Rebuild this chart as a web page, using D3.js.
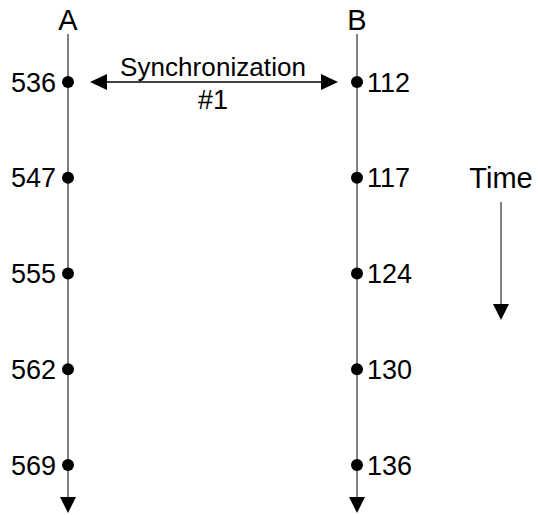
<!DOCTYPE html>
<html>
<head>
<meta charset="utf-8">
<script src="https://cdn.jsdelivr.net/npm/d3@7"></script>
<style>
	body { margin: 0; background: #fff; }
	text { font-family: Arial, "Liberation Sans", sans-serif; fill: #000; }
</style>
</head>
<body>
<div id="container"></div>
<script>
const processes = ["A", "B"];
const eventIndex = [0, 1, 2, 3, 4];
const clockA = [536, 547, 555, 562, 569];
const clockB = [112, 117, 124, 130, 136];
const syncLabel = ["Synchronization", "#1"];
const syncEvent = 0;
const timeLabel = "Time";

function drawChart() {
	const width = 538;
	const height = 515;
	const lineColor = "#808080";

	const svg = d3
		.select("#container")
		.append("svg")
		.attr("width", width)
		.attr("height", height);

	const xScale = d3.scalePoint().domain(processes).range([68, 357]);
	const yScale = d3.scalePoint().domain(eventIndex).range([82, 465]);

	const lineTop = 34;
	const lineBottom = 513;
	const headLen = 16;
	const headHalf = 8;

	// process timelines
	const lanes = svg
		.selectAll(".lane")
		.data(processes)
		.enter()
		.append("g")
		.attr("class", "lane");

	lanes
		.append("line")
		.attr("x1", (d) => xScale(d))
		.attr("x2", (d) => xScale(d))
		.attr("y1", lineTop)
		.attr("y2", lineBottom - headLen)
		.attr("stroke", lineColor)
		.attr("stroke-width", 2);

	lanes
		.append("path")
		.attr("d", (d) => {
			const x = xScale(d);
			return `M${x - headHalf},${lineBottom - headLen}L${x + headHalf},${lineBottom - headLen}L${x},${lineBottom}Z`;
		})
		.attr("fill", "#000");

	lanes
		.append("text")
		.attr("x", (d) => xScale(d))
		.attr("y", 30)
		.attr("text-anchor", "middle")
		.attr("font-size", 29)
		.text((d) => d);

	// events
	const series = [
		{ name: "A", values: clockA, anchor: "end", dx: -12 },
		{ name: "B", values: clockB, anchor: "start", dx: 10 },
	];

	series.forEach((s) => {
		const g = svg.append("g").attr("class", `events-${s.name}`);
		g.selectAll("circle")
			.data(s.values)
			.enter()
			.append("circle")
			.attr("cx", xScale(s.name))
			.attr("cy", (d, i) => yScale(i))
			.attr("r", 6)
			.attr("fill", "#000");
		g.selectAll("text")
			.data(s.values)
			.enter()
			.append("text")
			.attr("x", xScale(s.name) + s.dx)
			.attr("y", (d, i) => yScale(i))
			.attr("dy", "0.36em")
			.attr("text-anchor", s.anchor)
			.attr("font-size", 27)
			.text((d) => d);
	});

	// synchronization arrow
	const sy = yScale(syncEvent);
	const sx1 = xScale("A") + 22;
	const sx2 = xScale("B") - 19;
	const sync = svg.append("g").attr("class", "sync");
	sync
		.append("line")
		.attr("x1", sx1 + headLen)
		.attr("x2", sx2 - headLen)
		.attr("y1", sy)
		.attr("y2", sy)
		.attr("stroke", "#404040")
		.attr("stroke-width", 2);
	sync
		.append("path")
		.attr("d", `M${sx1},${sy}L${sx1 + headLen + 1},${sy - headHalf}L${sx1 + headLen + 1},${sy + headHalf}Z`)
		.attr("fill", "#000");
	sync
		.append("path")
		.attr("d", `M${sx2},${sy}L${sx2 - headLen - 1},${sy - headHalf}L${sx2 - headLen - 1},${sy + headHalf}Z`)
		.attr("fill", "#000");
	const mid = (sx1 + sx2) / 2 - 1;
	sync
		.append("text")
		.attr("x", mid)
		.attr("y", sy - 6)
		.attr("text-anchor", "middle")
		.attr("font-size", 26)
		.attr("textLength", 186)
		.text(syncLabel[0]);
	sync
		.append("text")
		.attr("x", mid)
		.attr("y", sy + 27)
		.attr("text-anchor", "middle")
		.attr("font-size", 27)
		.text(syncLabel[1]);

	// time legend
	const tx = 501;
	const time = svg.append("g").attr("class", "time");
	time
		.append("text")
		.attr("x", tx)
		.attr("y", 188)
		.attr("text-anchor", "middle")
		.attr("font-size", 29)
		.text(timeLabel);
	time
		.append("line")
		.attr("x1", tx)
		.attr("x2", tx)
		.attr("y1", 202)
		.attr("y2", 320 - headLen)
		.attr("stroke", lineColor)
		.attr("stroke-width", 2);
	time
		.append("path")
		.attr("d", `M${tx - headHalf},${320 - headLen}L${tx + headHalf},${320 - headLen}L${tx},${320}Z`)
		.attr("fill", "#000");
}

drawChart();
</script>
</body>
</html>
